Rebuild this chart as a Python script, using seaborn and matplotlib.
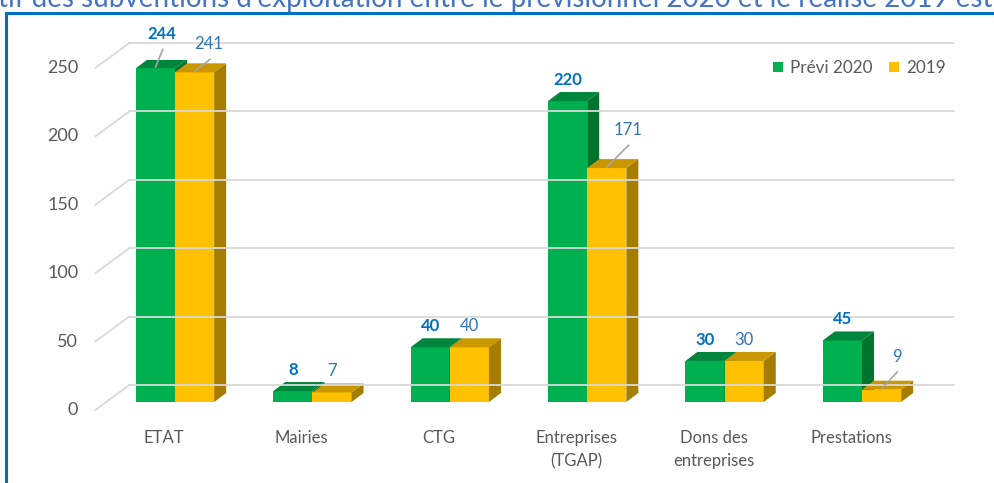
import numpy as np
import pandas as pd
import matplotlib
matplotlib.use("Agg")
import matplotlib.pyplot as plt
import seaborn as sns
from matplotlib.transforms import ScaledTranslation, blended_transform_factory, IdentityTransform
from matplotlib.patches import Polygon, Rectangle, Patch
from matplotlib.lines import Line2D

# ---------------- data ----------------
categories = ["ETAT", "Mairies", "CTG", "Entreprises\n(TGAP)", "Dons des\nentreprises", "Prestations"]
previ_2020 = [244, 8, 40, 220, 30, 45]
real_2019 = [241, 7, 40, 171, 30, 9]
series = ["Prévi 2020", "2019"]
yticks = [0, 50, 100, 150, 200, 250]
title_text = "tif des subventions d'exploitation entre le prévisionnel 2020 et le réalisé 2019 est"

# ---------------- style ----------------
GREEN = "#00B050"; GREEN_TOP = "#00853C"; GREEN_SIDE = "#00732F"
YELLOW = "#FFC000"; YELLOW_TOP = "#C99700"; YELLOW_SIDE = "#A67D00"
GRID = "#D9D9D9"; TXT = "#595959"
LBL_G = "#0070C0"; LBL_Y = "#2E75B6"

df = pd.DataFrame({
    "cat": categories * 2,
    "serie": [series[0]] * len(categories) + [series[1]] * len(categories),
    "val": previ_2020 + real_2019,
})

sns.set_theme(style="white")
plt.rcParams["font.family"] = ["Lato", "DejaVu Sans"]

W, H = 994, 483
fig = plt.figure(figsize=(W / 100, H / 100), dpi=100)
fig.patch.set_facecolor("white")

ax_left, ax_right, ax_bot, ax_h = 106.3, 930.7, 81, 342
ax = fig.add_axes([ax_left / W, ax_bot / H, (ax_right - ax_left) / W, ax_h / H])
sns.barplot(data=df, x="cat", y="val", hue="serie", palette=[GREEN, YELLOW],
            width=0.57, saturation=1, ax=ax, legend=False, linewidth=0,
            edgecolor="none", errorbar=None)
ax.set_xlim(-0.5, len(categories) - 0.5)
ax.set_ylim(0, 250)
ax.patch.set_visible(False)
for s in ax.spines.values():
    s.set_visible(False)
ax.set_xlabel(""); ax.set_ylabel("")
ax.tick_params(labelbottom=False, labelleft=False, length=0)
ax.grid(False)

fig.canvas.draw()
T = ax.transData
ident = IdentityTransform()

# depth offsets (pixels): bar depth, back wall, front plane
BD = np.array([12.0, 9.0])
WALL = np.array([23.0, 17.0])
FRONT = np.array([-11.0, -8.0])

# back wall gridlines + left wall diagonals
x0_disp = T.transform((-0.5, 0))[0]
x1_disp = T.transform((len(categories) - 0.5, 0))[0]
for v in yticks:
    yd = T.transform((0, v))[1]
    back_l = np.array([x0_disp, yd]) + WALL
    back_r = np.array([x1_disp, yd]) + WALL
    front = np.array([x0_disp, yd]) + FRONT
    fig.add_artist(Line2D([back_l[0], back_r[0]], [back_l[1], back_r[1]],
                          transform=ident, color=GRID, lw=1.3, zorder=0.5))
    fig.add_artist(Line2D([front[0], back_l[0]], [front[1], back_l[1]],
                          transform=ident, color=GRID, lw=1.3, zorder=0.5))
    ax.text(0, v, str(v), transform=blended_transform_factory(ax.transAxes, ax.transData)
            + ScaledTranslation(-28 / 100, -8 / 100, fig.dpi_scale_trans),
            ha="right", va="center", fontsize=13, color=TXT)

# 3D faces
ncat = len(categories)
bars = ax.patches[:2 * ncat]
for k, bar in enumerate(bars):
    is_green = k < ncat
    bar.set_zorder(2 if is_green else 3)
    x, w, h = bar.get_x(), bar.get_width(), bar.get_height()
    bl = T.transform((x, 0)); br = T.transform((x + w, 0))
    tl = T.transform((x, h)); tr = T.transform((x + w, h))
    side = [br, tr, tr + BD, br + BD]
    top = [tl, tr, tr + BD, tl + BD]
    zc = 2.5 if is_green else 3.5
    ax.add_patch(Polygon(side, closed=True, transform=ident, facecolor=GREEN_SIDE if is_green else YELLOW_SIDE,
                         edgecolor="none", zorder=zc))
    ax.add_patch(Polygon(top, closed=True, transform=ident, facecolor=GREEN_TOP if is_green else YELLOW_TOP,
                         edgecolor="none", zorder=zc))

# data labels (pixel offsets from front-top centre; leader lines for moved labels)
label_offsets = {(0, 0): (6.5, 34), (1, 0): (14.5, 28), (1, 3): (21, 38), (1, 5): (15, 33)}
for k, bar in enumerate(bars):
    s_idx, c_idx = (0, k) if k < ncat else (1, k - ncat)
    val = (previ_2020 if s_idx == 0 else real_2019)[c_idx]
    cx = bar.get_x() + bar.get_width() / 2
    p = T.transform((cx, bar.get_height()))
    dx, dy = label_offsets.get((s_idx, c_idx), (0, 21))
    lp = p + np.array([dx, dy])
    fig.text(lp[0] / W, lp[1] / H, str(val), ha="center", va="center",
             fontsize=12, color=LBL_G if s_idx == 0 else LBL_Y,
             fontweight="bold" if s_idx == 0 else "normal", zorder=6)
    if (s_idx, c_idx) in label_offsets:
        start = lp + np.array([1, -15])
        fig.add_artist(Line2D([start[0], p[0]], [start[1], p[1] + 1], transform=ident,
                              color="#A6A6A6", lw=1.2, zorder=6))

# category labels on front plane
for i, c in enumerate(categories):
    ax.text(i, 0, c, transform=ax.transData + ScaledTranslation(-11 / 100, -28 / 100, fig.dpi_scale_trans),
            ha="center", va="top", fontsize=12, color=TXT, linespacing=1.55)

# legend
handles = [Patch(facecolor=GREEN, edgecolor="none"), Patch(facecolor=YELLOW, edgecolor="none")]
fig.legend(handles, series, ncol=2, frameon=False, loc="center right",
           bbox_to_anchor=(946 / W, 1 - 68 / H), fontsize=12.3, labelcolor=TXT,
           handlelength=0.6, handleheight=0.6, handletextpad=0.4, columnspacing=1.0,
           borderpad=0, borderaxespad=0)

# border and cropped title
fig.add_artist(Rectangle((6 / W, -0.1), 1.2, (H - 13) / H + 0.1, transform=fig.transFigure,
                         fill=False, edgecolor="#0070C0", lw=2.2, zorder=10))
fig.text(-2 / W, 1 - 7 / H, title_text, ha="left", va="baseline", fontsize=20, color="#4472C4")

fig.savefig("out.png", dpi=100)
